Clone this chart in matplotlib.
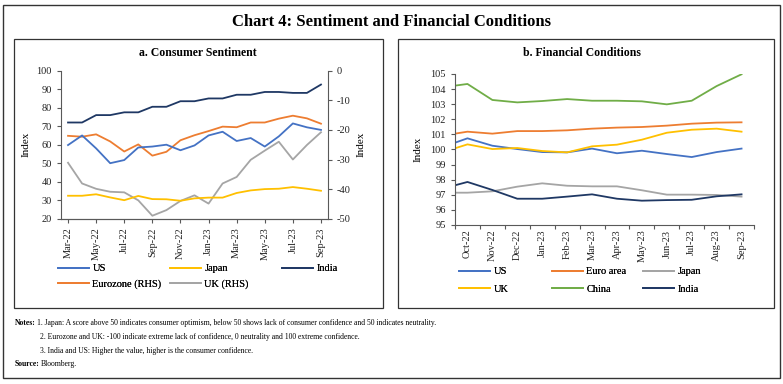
"""
Chart 4: Sentiment and Financial Conditions
(consumer sentiment and financial conditions indices, two panels)
"""
import numpy as np
import matplotlib
matplotlib.use("Agg")
import matplotlib.pyplot as plt
from matplotlib.patches import Rectangle

plt.rcParams["font.family"] = ["Liberation Serif", "DejaVu Serif"]
plt.rcParams["axes.unicode_minus"] = False

# ---- panel a: consumer sentiment (monthly, Mar-22 .. Sep-23)
MONTHS_A = ["Mar-22", "Apr-22", "May-22", "Jun-22", "Jul-22", "Aug-22", "Sep-22",
            "Oct-22", "Nov-22", "Dec-22", "Jan-23", "Feb-23", "Mar-23", "Apr-23",
            "May-23", "Jun-23", "Jul-23", "Aug-23", "Sep-23"]
us_sent = [59.8, 65.0, 58.0, 50.0, 51.7, 58.5, 59.0, 60.0, 57.0, 59.6,
           65.0, 67.0, 62.0, 63.6, 59.0, 64.5, 71.5, 69.4, 68.0]
japan_sent = [32.4, 32.4, 33.2, 31.5, 30.0, 32.3, 30.6, 30.5, 29.7, 31.0,
              31.4, 31.4, 33.9, 35.3, 36.0, 36.2, 37.1, 36.2, 35.1]
india_sent = [72.0, 72.0, 76.0, 76.0, 77.5, 77.5, 80.5, 80.5, 83.5, 83.5,
              85.0, 85.0, 87.0, 87.0, 88.5, 88.5, 88.0, 88.0, 92.5]
euro_sent = [-22.0, -22.3, -21.5, -23.9, -27.3, -24.9, -28.7, -27.4, -23.5, -21.8,
             -20.4, -18.9, -19.1, -17.5, -17.5, -16.2, -15.2, -16.1, -17.9]
uk_sent = [-31.1, -38.1, -39.9, -40.9, -41.1, -43.8, -49.0, -47.1, -44.0, -42.1,
           -44.9, -38.1, -35.9, -30.1, -27.0, -24.0, -30.0, -25.1, -20.8]

# ---- panel b: financial conditions (first value = end Sep-22, sits on the axis edge)
MONTHS_B = ["Oct-22", "Nov-22", "Dec-22", "Jan-23", "Feb-23", "Mar-23",
            "Apr-23", "May-23", "Jun-23", "Jul-23", "Aug-23", "Sep-23"]
us_fci = [100.45, 100.74, 100.25, 100.03, 99.83, 99.81, 100.06, 99.75, 99.92,
          99.70, 99.50, 99.83, 100.06]
euro_fci = [101.05, 101.18, 101.05, 101.22, 101.22, 101.27, 101.38, 101.45,
            101.49, 101.58, 101.71, 101.78, 101.80]
japan_fci = [97.14, 97.14, 97.23, 97.54, 97.76, 97.60, 97.56, 97.56, 97.30,
             97.01, 97.01, 96.99, 96.88]
uk_fci = [100.08, 100.34, 100.03, 100.10, 99.90, 99.81, 100.21, 100.32, 100.65,
          101.11, 101.31, 101.38, 101.18]
china_fci = [104.23, 104.34, 103.28, 103.12, 103.21, 103.34, 103.23, 103.23,
             103.19, 102.99, 103.23, 104.20, 104.98]
india_fci = [97.63, 97.85, 97.32, 96.74, 96.74, 96.88, 97.03, 96.74, 96.61,
             96.65, 96.67, 96.90, 97.03]

BLUE, YELLOW, NAVY = "#4472C4", "#FFC000", "#1F3864"
ORANGE, GREY, GREEN = "#ED7D31", "#A5A5A5", "#70AD47"
SPINE = "#595959"
LW = 1.3
W, H = 783, 384


def fx(px):
    return px / W


def fy(py):
    return 1 - py / H


def style_axis(ax):
    for s in ax.spines.values():
        s.set_color(SPINE)
        s.set_linewidth(0.8)
    ax.tick_params(colors=SPINE, labelcolor="#222222", labelsize=7.5,
                   length=3, width=0.8, direction="out")


def column_legends(fig, columns, xs, ytop, spacing):
    # one legend per column so the items line up row-wise like the original
    for handles, x in zip(columns, xs):
        leg = fig.legend(handles=handles, loc="upper left", bbox_to_anchor=(fx(x), fy(ytop)),
                         frameon=False, fontsize=7.5, handlelength=3.0, handletextpad=0.3,
                         borderpad=0, borderaxespad=0, labelspacing=spacing)
        fig.add_artist(leg)


fig = plt.figure(figsize=(W / 100, H / 100), dpi=100)

# frames
fig.patches.append(Rectangle((fx(3), fy(378)), fx(777), 373 / H, transform=fig.transFigure,
                             fill=False, ec="#333333", lw=1.0))
for x0, x1 in [(14, 383), (398, 774)]:
    fig.patches.append(Rectangle((fx(x0), fy(308)), fx(x1 - x0), 269 / H,
                                 transform=fig.transFigure, fill=False, ec="#333333", lw=0.9))

fig.text(0.5, fy(22), "Chart 4: Sentiment and Financial Conditions",
         ha="center", va="center", fontsize=12, fontweight="bold")

# ---------------- panel a
axa = fig.add_axes([fx(61), fy(218.7), fx(328 - 61), (218.7 - 70.7) / H])
axr = axa.twinx()
xa = np.arange(len(MONTHS_A))
la_us, = axa.plot(xa, us_sent, color=BLUE, lw=LW, label="US")
la_jp, = axa.plot(xa, japan_sent, color=YELLOW, lw=LW, label="Japan")
la_in, = axa.plot(xa, india_sent, color=NAVY, lw=LW, label="India")
la_eu, = axr.plot(xa, euro_sent, color=ORANGE, lw=LW, label="Eurozone (RHS)")
la_uk, = axr.plot(xa, uk_sent, color=GREY, lw=LW, label="UK (RHS)")
axa.set_zorder(axr.get_zorder() + 1)
axa.patch.set_visible(False)

axa.set_xlim(-0.5, len(MONTHS_A) - 0.5)
axa.set_ylim(20, 100)
axa.set_yticks(range(20, 101, 10))
axr.set_ylim(-50, 0)
axr.set_yticks(range(-50, 1, 10))
axa.set_xticks(xa[::2])
axa.set_xticklabels(MONTHS_A[::2], rotation=90)
axa.set_ylabel("Index", fontsize=8, labelpad=4)
axr.set_ylabel("Index", fontsize=8, labelpad=4)
for ax in (axa, axr):
    style_axis(ax)
    ax.spines["top"].set_visible(False)
axr.spines["left"].set_visible(False)
axa.spines["right"].set_visible(False)

fig.text(fx(198), fy(53), "a. Consumer Sentiment", ha="center", va="center",
         fontsize=8.5, fontweight="bold")
column_legends(fig, [[la_us, la_eu], [la_jp, la_uk], [la_in]], [58, 170, 282], 264, 0.62)

# ---------------- panel b
axb = fig.add_axes([fx(455), fy(225), fx(754 - 455), (225 - 74) / H])
xb = np.concatenate([[-0.5], np.arange(len(MONTHS_B))])
lb_us, = axb.plot(xb, us_fci, color=BLUE, lw=LW, label="US")
lb_eu, = axb.plot(xb, euro_fci, color=ORANGE, lw=LW, label="Euro area")
lb_jp, = axb.plot(xb, japan_fci, color=GREY, lw=LW, label="Japan")
lb_uk, = axb.plot(xb, uk_fci, color=YELLOW, lw=LW, label="UK")
lb_cn, = axb.plot(xb, china_fci, color=GREEN, lw=LW, label="China")
lb_in, = axb.plot(xb, india_fci, color=NAVY, lw=LW, label="India")
axb.set_xlim(-0.5, len(MONTHS_B) - 0.5)
axb.set_ylim(95, 105)
axb.set_yticks(range(95, 106))
axb.set_xticks(np.arange(len(MONTHS_B) + 1) - 0.5)
axb.set_xticklabels([])
axb.set_xticks(np.arange(len(MONTHS_B)), minor=True)
axb.set_xticklabels(MONTHS_B, minor=True, rotation=90)
axb.set_ylabel("Index", fontsize=8, labelpad=6)
style_axis(axb)
axb.tick_params(axis="x", which="minor", length=0, labelsize=7.5, labelcolor="#222222")
axb.spines["top"].set_visible(False)
axb.spines["right"].set_visible(False)

fig.text(fx(582), fy(53), "b. Financial Conditions", ha="center", va="center",
         fontsize=8.5, fontweight="bold")
column_legends(fig, [[lb_us, lb_uk], [lb_eu, lb_cn], [lb_jp, lb_in]], [459, 552, 643], 267, 0.78)

# ---------------- notes
NOTE_FS = 5.5
fig.text(fx(15), fy(323), "Notes:", fontsize=NOTE_FS, fontweight="bold", va="center")
fig.text(fx(37), fy(323), "1. Japan: A score above 50 indicates consumer optimism, below 50 "
         "shows lack of consumer confidence and 50 indicates neutrality.",
         fontsize=NOTE_FS, va="center")
fig.text(fx(40), fy(337), "2. Eurozone and UK: -100 indicate extreme lack of confidence, "
         "0 neutrality and 100 extreme confidence.", fontsize=NOTE_FS, va="center")
fig.text(fx(40), fy(351), "3. India and US: Higher the value, higher is the consumer confidence.",
         fontsize=NOTE_FS, va="center")
fig.text(fx(15), fy(364), "Source:", fontsize=NOTE_FS, fontweight="bold", va="center")
fig.text(fx(41), fy(364), "Bloomberg.", fontsize=NOTE_FS, va="center")

fig.savefig("out.png", dpi=100)
